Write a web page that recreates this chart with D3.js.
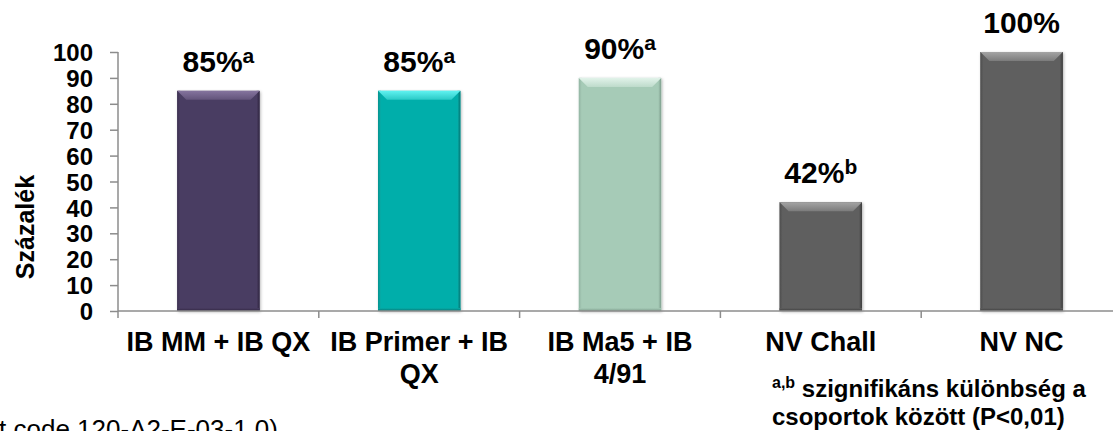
<!DOCTYPE html>
<html>
<head>
<meta charset="utf-8">
<script src="https://cdn.jsdelivr.net/npm/d3@7"></script>
<style>
  html, body { margin: 0; padding: 0; background: #fff; overflow: hidden; }
  svg { display: block; font-family: "Liberation Sans", Arial, sans-serif; }
</style>
</head>
<body>
<svg id="chart" width="1113" height="431"></svg>
<script>
// Groups and their survival percentages
const categories = ["IB MM + IB QX", "IB Primer + IB QX", "IB Ma5 + IB 4/91", "NV Chall", "NV NC"];
const categoryLines = [["IB MM + IB QX"], ["IB Primer + IB", "QX"], ["IB Ma5 + IB", "4/91"], ["NV Chall"], ["NV NC"]];
const values = [85, 85, 90, 42, 100];
const significance = ["a", "a", "a", "b", ""];
const yTicks = [0, 10, 20, 30, 40, 50, 60, 70, 80, 90, 100];
const barColors = ["#4a3d62", "#06aeaa", "#a6cbb7", "#5f5f5f", "#5f5f5f"];
const bevelColors = ["#85749e", "#5ff2f0", "#e2f3ea", "#a4a4a4", "#a4a4a4"];
const edgeColors = ["#2f2540", "#037573", "#7f9f8e", "#3c3c3c", "#3c3c3c"];

const svg = d3.select("#chart");
const plotLeft = 118, plotTop = 52, plotBottom = 311, step = 200.8;

const x = d3.scaleBand().domain(categories).range([plotLeft, plotLeft + step * categories.length]).padding(0);
const y = d3.scaleLinear().domain([0, 100]).range([plotBottom, plotTop]);
const barFrac = 0.41;

const defs = svg.append("defs");
const shadow = defs.append("filter").attr("id", "shadow")
  .attr("x", "-20%").attr("y", "-20%").attr("width", "140%").attr("height", "140%");
shadow.append("feDropShadow").attr("dx", 1).attr("dy", 1)
  .attr("stdDeviation", 1.6).attr("flood-color", "#000").attr("flood-opacity", 0.3);

barColors.forEach((c, i) => {
  const g = defs.append("linearGradient").attr("id", "bev" + i)
    .attr("x1", 0).attr("y1", 0).attr("x2", 0).attr("y2", 1);
  g.append("stop").attr("offset", 0).attr("stop-color", bevelColors[i]);
  g.append("stop").attr("offset", 1).attr("stop-color", d3.interpolateRgb(bevelColors[i], c)(0.6));
  const r = defs.append("linearGradient").attr("id", "edgeR" + i)
    .attr("x1", 0).attr("y1", 0).attr("x2", 1).attr("y2", 0);
  r.append("stop").attr("offset", 0).attr("stop-color", c);
  r.append("stop").attr("offset", 1).attr("stop-color", edgeColors[i]);
  const l = defs.append("linearGradient").attr("id", "edgeL" + i)
    .attr("x1", 0).attr("y1", 0).attr("x2", 1).attr("y2", 0);
  l.append("stop").attr("offset", 0).attr("stop-color", d3.interpolateRgb(c, edgeColors[i])(0.5));
  l.append("stop").attr("offset", 1).attr("stop-color", c);
  const b = defs.append("linearGradient").attr("id", "edgeB" + i)
    .attr("x1", 0).attr("y1", 0).attr("x2", 0).attr("y2", 1);
  b.append("stop").attr("offset", 0).attr("stop-color", c);
  b.append("stop").attr("offset", 1).attr("stop-color", edgeColors[i]);
});

// Bars with a bevelled look
const bars = svg.append("g").selectAll("g.bar")
  .data(categories.map((c, i) => ({ c, v: values[i], i })))
  .join("g").attr("class", "bar");

bars.each(function (d) {
  const g = d3.select(this);
  const bw = x.bandwidth() * barFrac;
  const x0 = x(d.c) + (x.bandwidth() - bw) / 2, x1 = x0 + bw;
  const y0 = y(d.v), y1 = y(0);
  const b = 9, e = 3;
  g.append("rect").attr("x", x0).attr("y", y0).attr("width", bw).attr("height", y1 - y0)
    .attr("fill", barColors[d.i]).attr("filter", "url(#shadow)");
  g.append("rect").attr("x", x1 - e).attr("y", y0).attr("width", e).attr("height", y1 - y0)
    .attr("fill", `url(#edgeR${d.i})`);
  g.append("rect").attr("x", x0).attr("y", y0).attr("width", e).attr("height", y1 - y0)
    .attr("fill", `url(#edgeL${d.i})`);
  g.append("rect").attr("x", x0).attr("y", y1 - e).attr("width", bw).attr("height", e)
    .attr("fill", `url(#edgeB${d.i})`);
  g.append("polygon")
    .attr("points", [[x0, y0], [x1, y0], [x1 - b, y0 + b], [x0 + b, y0 + b]].map(p => p.join(",")).join(" "))
    .attr("fill", `url(#bev${d.i})`);
});

// Axes
const axisColor = "#8c8c8c";
const yAxis = svg.append("g").attr("transform", `translate(${plotLeft},0)`)
  .call(d3.axisLeft(y).tickValues(yTicks).tickSize(8).tickPadding(17));
yAxis.select(".domain").attr("stroke", axisColor).attr("stroke-width", 1.5)
  .attr("d", `M0,${plotTop}V${plotBottom}`);
yAxis.selectAll(".tick line").attr("stroke", axisColor).attr("stroke-width", 1.5);
yAxis.selectAll(".tick text").attr("fill", "#000").attr("font-size", 24).attr("font-weight", "bold")
  .attr("font-family", "Liberation Sans, Arial, sans-serif").attr("dy", "0.36em");

const boundaries = categories.map(c => x(c)).concat([x.range()[1]]);
const xAxis = svg.append("g");
xAxis.append("line").attr("x1", plotLeft).attr("x2", x.range()[1]).attr("y1", plotBottom).attr("y2", plotBottom)
  .attr("stroke", axisColor).attr("stroke-width", 1.5);
xAxis.selectAll("line.tick").data(boundaries).join("line").attr("class", "tick")
  .attr("x1", d => d).attr("x2", d => d).attr("y1", plotBottom).attr("y2", plotBottom + 7)
  .attr("stroke", axisColor).attr("stroke-width", 1.5);

// Category labels
const catLabels = svg.append("g").selectAll("text")
  .data(categories.map((c, i) => ({ c, lines: categoryLines[i] })))
  .join("text")
  .attr("text-anchor", "middle").attr("font-size", 27).attr("font-weight", "bold").attr("fill", "#000");
catLabels.each(function (d) {
  const t = d3.select(this);
  d.lines.forEach((ln, k) => {
    t.append("tspan").attr("x", x(d.c) + x.bandwidth() / 2).attr("y", 351 + k * 32).text(ln);
  });
});

// Value labels with significance letters
svg.append("g").selectAll("text")
  .data(categories.map((c, i) => ({ c, v: values[i], s: significance[i] })))
  .join("text")
  .attr("text-anchor", "middle").attr("font-weight", "bold").attr("fill", "#000")
  .attr("x", d => x(d.c) + x.bandwidth() / 2)
  .attr("y", d => y(d.v) - 19)
  .each(function (d) {
    const t = d3.select(this);
    t.append("tspan").attr("font-size", 30).text(d.v + "%");
    if (d.s) t.append("tspan").attr("font-size", 21).attr("dy", -9).text(d.s);
  });

// Y axis title
svg.append("text").attr("transform", "translate(34,227) rotate(-90)")
  .attr("text-anchor", "middle").attr("font-size", 25).attr("font-weight", "bold").attr("fill", "#000")
  .text("Százalék");

// Significance note
const note = svg.append("text").attr("font-weight", "bold").attr("fill", "#000").attr("font-size", 24);
note.append("tspan").attr("x", 772).attr("y", 397).attr("font-size", 16).attr("dy", -9).text("a,b");
note.append("tspan").attr("dy", 9).text(" szignifikáns különbség a");
note.append("tspan").attr("x", 772).attr("y", 425).text("csoportok között (P<0,01)");

// Product code line at the lower left
svg.append("text").attr("x", 278).attr("y", 438).attr("text-anchor", "end")
  .attr("font-size", 26).attr("fill", "#000").text("t code 120-A2-E-03-1.0)");
</script>
</body>
</html>
